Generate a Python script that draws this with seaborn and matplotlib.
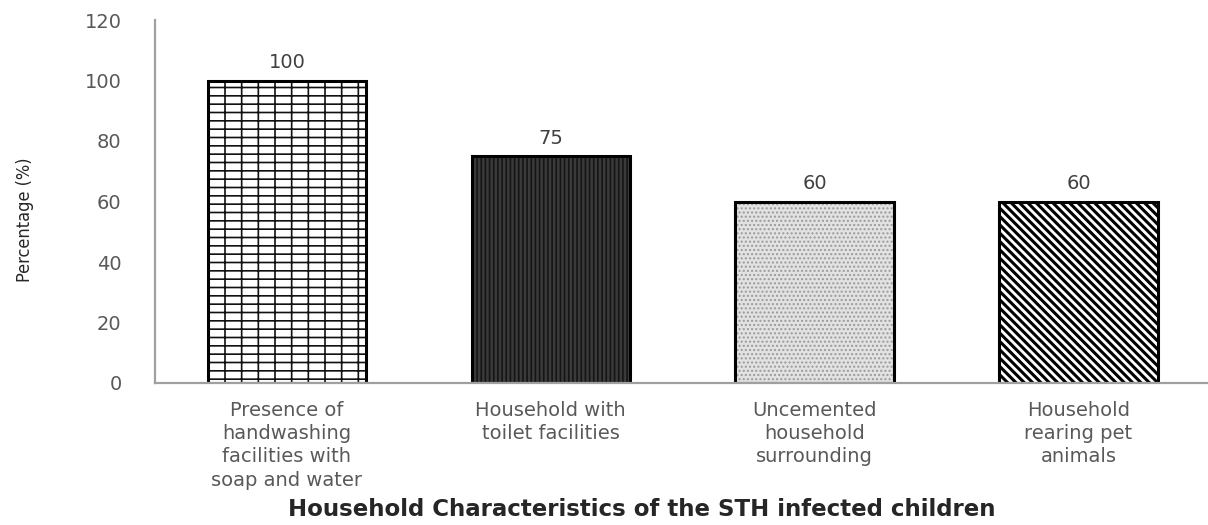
import matplotlib
matplotlib.use("Agg")
import matplotlib.pyplot as plt
import seaborn as sns
import pandas as pd

categories = [
    "Presence of\nhandwashing\nfacilities with\nsoap and water",
    "Household with\ntoilet facilities",
    "Uncemented\nhousehold\nsurrounding",
    "Household\nrearing pet\nanimals",
]
values = [100, 75, 60, 60]
y_ticks = [0, 20, 40, 60, 80, 100, 120]

sns.set_theme(style="white")
plt.rcParams["font.family"] = ["DejaVu Sans"]
plt.rcParams["hatch.linewidth"] = 1.2

df = pd.DataFrame({"cat": categories, "val": values})

fig = plt.figure(figsize=(12.08, 5.25), dpi=100)
ax = fig.add_axes([155 / 1208, 1 - 383 / 525, 1 - 155 / 1208 + 0.002, (383 - 20) / 525])

sns.barplot(data=df, x="cat", y="val", color="white", width=0.6,
            edgecolor="black", linewidth=2.2, ax=ax, saturation=1)

styles = [
    ("white", "|--", "#111111", 1.2),
    ("#3a3a3a", "||||", "#151515", 1.2),
    ("#e2e2e2", "....", "#9a9a9a", 1.0),
    ("white", "\\\\\\\\", "black", 2.2),
]
for p, (fc, h, hc, hl) in zip(ax.patches, styles):
    p.set_facecolor(fc)
    p.set_hatch(h)
    p.set_edgecolor("black")
    try:
        p._hatch_color = matplotlib.colors.to_rgba(hc)
    except Exception:
        pass
    try:
        p.set_hatch_linewidth(hl)
    except Exception:
        pass

ax.bar_label(ax.containers[0], labels=[str(v) for v in values], padding=6,
             fontsize=14, color="#404040")

ax.set_ylim(0, 120)
ax.set_xlim(-0.5, 3.5)
ax.set_yticks(y_ticks)
ax.set_yticklabels([str(t) for t in y_ticks])
ax.tick_params(axis="y", length=0, pad=24, labelsize=14, labelcolor="#595959")
ax.tick_params(axis="x", length=0, pad=13, labelsize=14, labelcolor="#595959")
for lbl in ax.get_xticklabels():
    lbl.set_linespacing(1.28)

for s in ["top", "right"]:
    ax.spines[s].set_visible(False)
ax.spines["left"].set_color("#a0a0a0")
ax.spines["left"].set_linewidth(1.6)
ax.spines["bottom"].set_color("#a0a0a0")
ax.spines["bottom"].set_linewidth(1.6)
ax.set_xlabel("")
ax.set_ylabel("")

fig.text(642 / 1208, 1 - 510 / 525, "Household Characteristics of the STH infected children",
         ha="center", va="center", fontsize=16.5, fontweight="bold",
         color="#262626", family=["DejaVu Sans"])
fig.text(25 / 1208, 1 - 220 / 525, "Percentage (%)", rotation=90, ha="center", va="center",
         fontsize=13, color="#262626",
         family=["Liberation Sans Narrow", "DejaVu Sans"], fontstretch="condensed")

fig.savefig("out.png", dpi=100)
